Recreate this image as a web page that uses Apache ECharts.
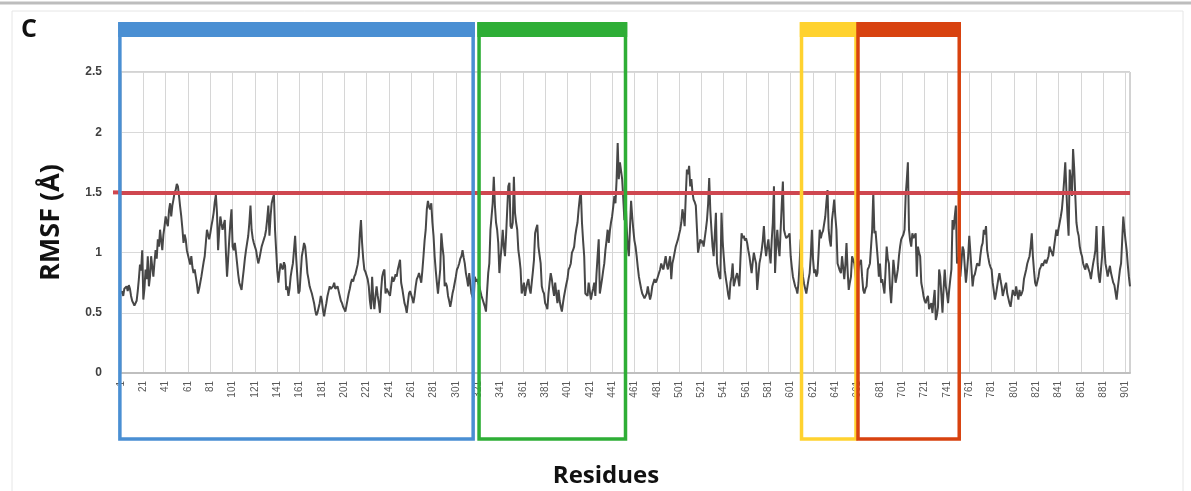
<!DOCTYPE html>
<html>
<head>
<meta charset="utf-8">
<script src="https://cdn.jsdelivr.net/npm/echarts@6/dist/echarts.min.js"></script>
<style>
html,body{margin:0;padding:0;background:#fff;}
#chart{width:1191px;height:491px;}
</style>
</head>
<body>
<div id="chart"></div>
<script>
// ---- DATA ----
const panelLabel = 'C';
const yAxisTitle = 'RMSF (Å)';
const xAxisTitle = 'Residues';
const yTicks = [0, 0.5, 1, 1.5, 2, 2.5];
const threshold = 1.5;
const labelEvery = 20;

// RMSF per residue (Å), residues 1..905
const rmsfPart1 = [
0.66,0.68,0.64,0.70,0.69,0.72,0.68,0.73,0.70,0.64,
0.60,0.58,0.56,0.55,0.60,0.68,0.78,0.90,0.85,1.02,
0.61,0.70,0.86,0.78,0.97,0.72,0.80,0.97,0.88,0.80,
0.92,1.02,0.95,1.11,1.05,1.19,1.10,1.02,1.15,1.22,
1.30,1.25,1.22,1.35,1.41,1.30,1.39,1.44,1.50,1.52,
1.57,1.55,1.47,1.38,1.30,1.20,1.08,1.15,1.11,1.02,
0.98,0.94,0.90,0.97,0.88,0.83,0.86,0.80,0.74,0.66,
0.70,0.75,0.80,0.86,0.92,0.97,1.08,1.19,1.15,1.11,
1.16,1.22,1.27,1.33,1.42,1.48,1.33,1.02,1.18,1.30,
1.24,1.19,1.23,1.27,1.00,0.80,0.95,1.11,1.25,1.36,
1.05,1.02,1.08,1.00,0.91,0.82,0.75,0.72,0.69,0.78,
0.86,0.95,1.02,1.08,1.14,1.25,1.39,1.19,1.12,1.08,
1.05,1.02,0.96,0.91,0.95,1.00,1.05,1.08,1.11,1.14,
1.19,1.28,1.39,1.14,1.30,1.41,1.45,1.48,1.19,1.02,
0.85,0.75,0.84,0.91,0.88,0.86,0.92,0.89,0.69,0.72,
0.64,0.70,0.80,0.86,0.91,1.02,1.14,0.95,0.80,0.66,
0.68,0.69,0.97,1.02,1.08,1.05,0.95,0.83,0.78,0.72,
0.69,0.66,0.62,0.58,0.52,0.48,0.50,0.51,0.58,0.64,
0.60,0.52,0.47,0.53,0.58,0.64,0.68,0.72,0.70,0.69,
0.72,0.75,0.70,0.69,0.72,0.68,0.64,0.60,0.58,0.55,
0.53,0.51,0.56,0.61,0.66,0.70,0.75,0.78,0.76,0.80,
0.82,0.83,0.90,0.97,1.15,1.27,1.08,0.95,0.86,0.84,
0.83,0.78,0.72,0.60,0.53,0.80,0.62,0.53,0.64,0.72,
0.64,0.58,0.50,0.68,0.80,0.84,0.86,0.66,0.70,0.69,
0.66,0.64,0.72,0.80,0.76,0.78,0.82,0.80,0.86,0.90,
0.94,0.75,0.70,0.64,0.58,0.55,0.50,0.58,0.66,0.68,
0.69,0.62,0.58,0.64,0.72,0.78,0.80,0.83,0.79,0.75,
0.85,0.97,1.10,1.19,1.36,1.43,1.38,1.36,1.41,1.25,
1.14,0.97,0.85,0.75,0.66,0.76,0.86,1.16,1.05,0.97,
0.72,0.75,0.72,0.64,0.60,0.55,0.60,0.66,0.70,0.75
];
const rmsfPart2 = [
0.80,0.86,0.88,0.91,0.95,0.97,1.02,0.96,0.91,0.83,
0.78,0.72,0.83,0.74,0.66,0.63,0.61,0.80,0.76,0.78,
0.75,0.72,0.68,0.64,0.61,0.58,0.55,0.51,0.68,0.83,
0.91,1.19,1.30,1.41,1.63,1.39,1.25,1.19,1.08,0.83,
0.95,1.05,1.19,1.05,0.97,1.14,1.35,1.55,1.58,1.22,
1.20,1.25,1.63,1.33,1.25,1.19,1.02,0.95,0.86,0.66,
0.70,0.75,0.64,0.70,0.75,0.78,0.70,0.66,0.75,0.84,
0.94,1.16,1.20,1.23,1.05,0.98,0.91,0.72,0.68,0.66,
0.58,0.56,0.53,0.66,0.75,0.83,0.78,0.70,0.64,0.75,
0.66,0.58,0.69,0.60,0.55,0.51,0.58,0.64,0.69,0.74,
0.78,0.86,0.88,0.91,1.00,1.02,1.05,1.14,1.20,1.25,
1.36,1.45,1.51,1.25,1.10,0.97,0.66,0.65,0.64,0.75,
0.68,0.61,0.66,0.70,0.75,0.64,0.82,0.97,1.11,0.66,
0.72,0.78,0.85,0.91,1.02,1.10,1.19,1.08,1.18,1.25,
1.30,1.38,1.47,1.41,1.60,1.91,1.61,1.75,1.68,1.61,
1.45,1.27,1.47,1.22,1.05,0.97,1.20,1.43,1.30,1.19,
1.10,1.05,0.97,0.88,0.80,0.75,0.70,0.66,0.64,0.62,
0.61,0.66,0.72,0.66,0.61,0.65,0.72,0.75,0.78,0.75,
0.77,0.80,0.83,0.86,0.91,0.88,0.86,0.92,0.97,0.90,
0.86,0.92,0.97,0.78,0.91,0.95,1.00,1.05,1.08,1.11,
1.15,1.19,1.25,1.36,1.30,1.22,1.47,1.69,1.65,1.72,
1.55,1.61,1.50,1.44,1.42,1.39,1.20,1.00,1.05,1.11,
1.08,1.10,1.05,1.12,1.19,1.27,1.40,1.62,1.35,1.19,
1.05,0.97,1.15,1.33,0.91,0.85,0.80,0.78,1.33,1.10,
0.97,0.85,0.78,0.72,0.65,0.61,0.75,0.80,0.91,0.72,
0.76,0.80,0.83,0.78,0.72,0.95,1.16,1.12,1.14,1.10,
1.12,1.08,1.02,0.97,0.90,0.83,0.92,1.00,0.95,0.91,
0.69,0.80,0.91,0.96,1.02,1.10,1.22,1.05,0.97,1.05,
1.11,1.00,0.91,1.10,1.25,1.55,0.83,1.05,1.19,1.05,
0.97,1.19,1.40,1.59,1.19,1.15,1.12,1.11,1.14,1.16
];
const rmsfPart3 = [
0.97,0.88,0.80,0.76,0.72,0.70,0.66,0.75,0.91,1.11,
0.90,0.80,0.74,0.70,0.66,0.72,0.78,0.83,0.97,1.19,
0.95,0.83,0.86,0.80,0.83,1.00,1.19,1.12,1.16,1.18,
1.19,1.30,1.42,1.52,1.19,1.10,1.05,1.27,1.35,1.44,
1.30,1.19,0.91,0.88,0.85,0.83,0.97,0.88,0.78,0.90,
1.08,0.85,0.69,0.75,0.80,0.97,0.94,0.91,0.82,0.75,
0.82,0.89,0.92,0.94,0.80,0.69,0.66,0.70,0.72,0.86,
0.88,0.91,1.05,1.19,1.50,1.16,1.18,1.19,0.95,0.80,
0.91,0.75,0.78,0.72,0.66,0.85,1.05,0.95,0.91,0.70,
0.58,0.75,0.94,0.85,0.75,0.80,0.86,0.97,1.05,1.11,
1.10,1.15,1.19,1.47,1.60,1.75,1.19,1.10,1.05,1.16,
1.12,1.11,1.16,0.80,1.05,1.00,0.97,0.75,0.70,0.64,
0.60,0.58,0.62,0.64,0.53,0.56,0.58,0.50,0.60,0.69,
0.44,0.48,0.55,0.86,0.80,0.65,0.50,0.70,0.86,0.72,
0.66,0.58,0.69,0.78,0.86,1.27,1.19,1.30,1.39,0.91,
0.93,0.97,0.80,0.92,1.05,1.02,0.88,0.75,0.85,0.97,
1.14,1.00,0.86,0.72,0.80,0.82,0.83,0.91,0.90,0.89,
0.98,1.05,1.08,1.19,1.15,1.22,1.02,0.96,0.91,0.88,
0.86,0.75,0.68,0.61,0.66,0.72,0.78,0.83,0.77,0.72,
0.64,0.68,0.72,0.75,0.66,0.62,0.58,0.55,0.62,0.69,
0.66,0.64,0.72,0.66,0.61,0.69,0.64,0.66,0.69,0.78,
0.82,0.86,0.91,0.94,0.97,1.05,1.16,0.97,0.85,0.75,
0.72,0.76,0.80,0.86,0.88,0.91,0.89,0.92,0.94,0.91,
0.94,0.97,1.05,1.02,1.00,0.97,1.05,1.12,1.19,1.14,
1.20,1.25,1.30,1.36,1.47,1.60,1.75,1.52,1.30,1.14,
1.69,1.60,1.47,1.86,1.70,1.47,1.25,1.18,1.14,1.05,
1.00,0.97,0.91,0.88,0.86,0.91,0.89,0.86,0.83,0.78,
0.85,0.91,0.96,1.02,1.22,0.91,0.80,0.75,0.86,0.97,
1.22,1.05,0.91,0.86,0.80,0.85,0.89,0.83,0.79,0.75,
0.73,0.72,0.61,0.70,0.78,0.86,0.91,1.10,1.30,1.19,
1.10,1.02,0.90,0.80,0.72
];
const rmsf = rmsfPart1.concat(rmsfPart2, rmsfPart3);
const residues = rmsf.map((_, i) => String(i + 1));

// Highlighted domains (residue ranges)
const regionStart = [0, 321.8, 610.7, 661.3];
const regionEnd   = [316.5, 453, 659.5, 752];

// ---- STYLE ----
const regionColors = ['#4A8FD3', '#2EAE36', '#FFD22F', '#D8420F'];
const thresholdColor = '#CF4750';

const chart = echarts.init(document.getElementById('chart'));
chart.setOption({
  animation: false,
  backgroundColor: '#fff',
  grid: {left: 121, right: 61, top: 72, bottom: 118, show: true, borderColor: '#A6A6A6', borderWidth: 1},
  xAxis: {
    type: 'category',
    data: residues,
    boundaryGap: false,
    axisLine: {lineStyle: {color: '#BFBFBF', width: 2}},
    axisTick: {show: false},
    axisLabel: {interval: labelEvery - 1, rotate: 90, fontSize: 10, color: '#595959', margin: 8, fontFamily: 'Liberation Sans'},
    splitLine: {show: true, interval: labelEvery - 1, lineStyle: {color: '#D6D6D6', width: 1}}
  },
  yAxis: {
    type: 'value',
    min: yTicks[0], max: yTicks[yTicks.length - 1], interval: yTicks[1] - yTicks[0],
    axisLine: {show: false},
    axisTick: {show: false},
    axisLabel: {fontSize: 12, color: '#404040', margin: 19, fontWeight: 'bold', fontFamily: 'Liberation Sans'},
    splitLine: {lineStyle: {color: '#D9D9D9'}},
    name: yAxisTitle,
    nameLocation: 'middle',
    nameGap: 56,
    nameTextStyle: {fontSize: 27, fontWeight: 'bold', color: '#111', fontFamily: 'Open Sans'}
  },
  series: [{
    type: 'line',
    data: rmsf,
    symbol: 'none',
    lineStyle: {color: '#474747', width: 2},
    z: 2,
    markLine: {
      silent: true,
      symbol: 'none',
      label: {show: false},
      lineStyle: {color: thresholdColor, width: 4, type: 'solid'},
      data: [{yAxis: threshold}]
    }
  }]
});

function drawOverlays() {
  const p0 = chart.convertToPixel({xAxisIndex: 0}, 0);
  const pN = chart.convertToPixel({xAxisIndex: 0}, rmsf.length - 1);
  const yT = chart.convertToPixel({yAxisIndex: 0}, threshold);
  const perRes = (pN - p0) / (rmsf.length - 1);
  const xOf = r => p0 + (r - 1) * perRes;
  const elements = [];
  // small left overhang of the threshold line
  elements.push({type: 'line', z: 50, shape: {x1: p0 - 8, y1: yT, x2: p0, y2: yT}, style: {stroke: thresholdColor, lineWidth: 4}});
  regionStart.forEach((s, i) => {
    const x0 = xOf(s), x1 = xOf(regionEnd[i]);
    elements.push({
      type: 'rect', z: 100,
      shape: {x: x0, y: 24, width: x1 - x0, height: 415},
      style: {fill: null, stroke: regionColors[i], lineWidth: 3.5}
    });
    elements.push({
      type: 'rect', z: 101,
      shape: {x: x0 - 1.75, y: 22, width: x1 - x0 + 3.5, height: 15},
      style: {fill: regionColors[i]}
    });
  });
  elements.push({type: 'line', z: 0, shape: {x1: 0, y1: 3, x2: 1191, y2: 3}, style: {stroke: '#BDBDBD', lineWidth: 3}});
  elements.push({type: 'rect', z: 0, shape: {x: 12, y: 11, width: 1171, height: 500}, style: {fill: null, stroke: '#E6E6E6', lineWidth: 1}});
  elements.push({type: 'text', z: 100, style: {text: panelLabel, x: 21, y: 17, font: 'bold 25px "Open Sans"', fill: '#111'}});
  elements.push({type: 'text', z: 100, style: {text: xAxisTitle, x: 606, y: 476, font: 'bold 24px "Open Sans"', fill: '#111', textAlign: 'center', textVerticalAlign: 'middle'}});
  chart.setOption({graphic: {elements: elements}});
}
drawOverlays();
</script>
</body>
</html>
